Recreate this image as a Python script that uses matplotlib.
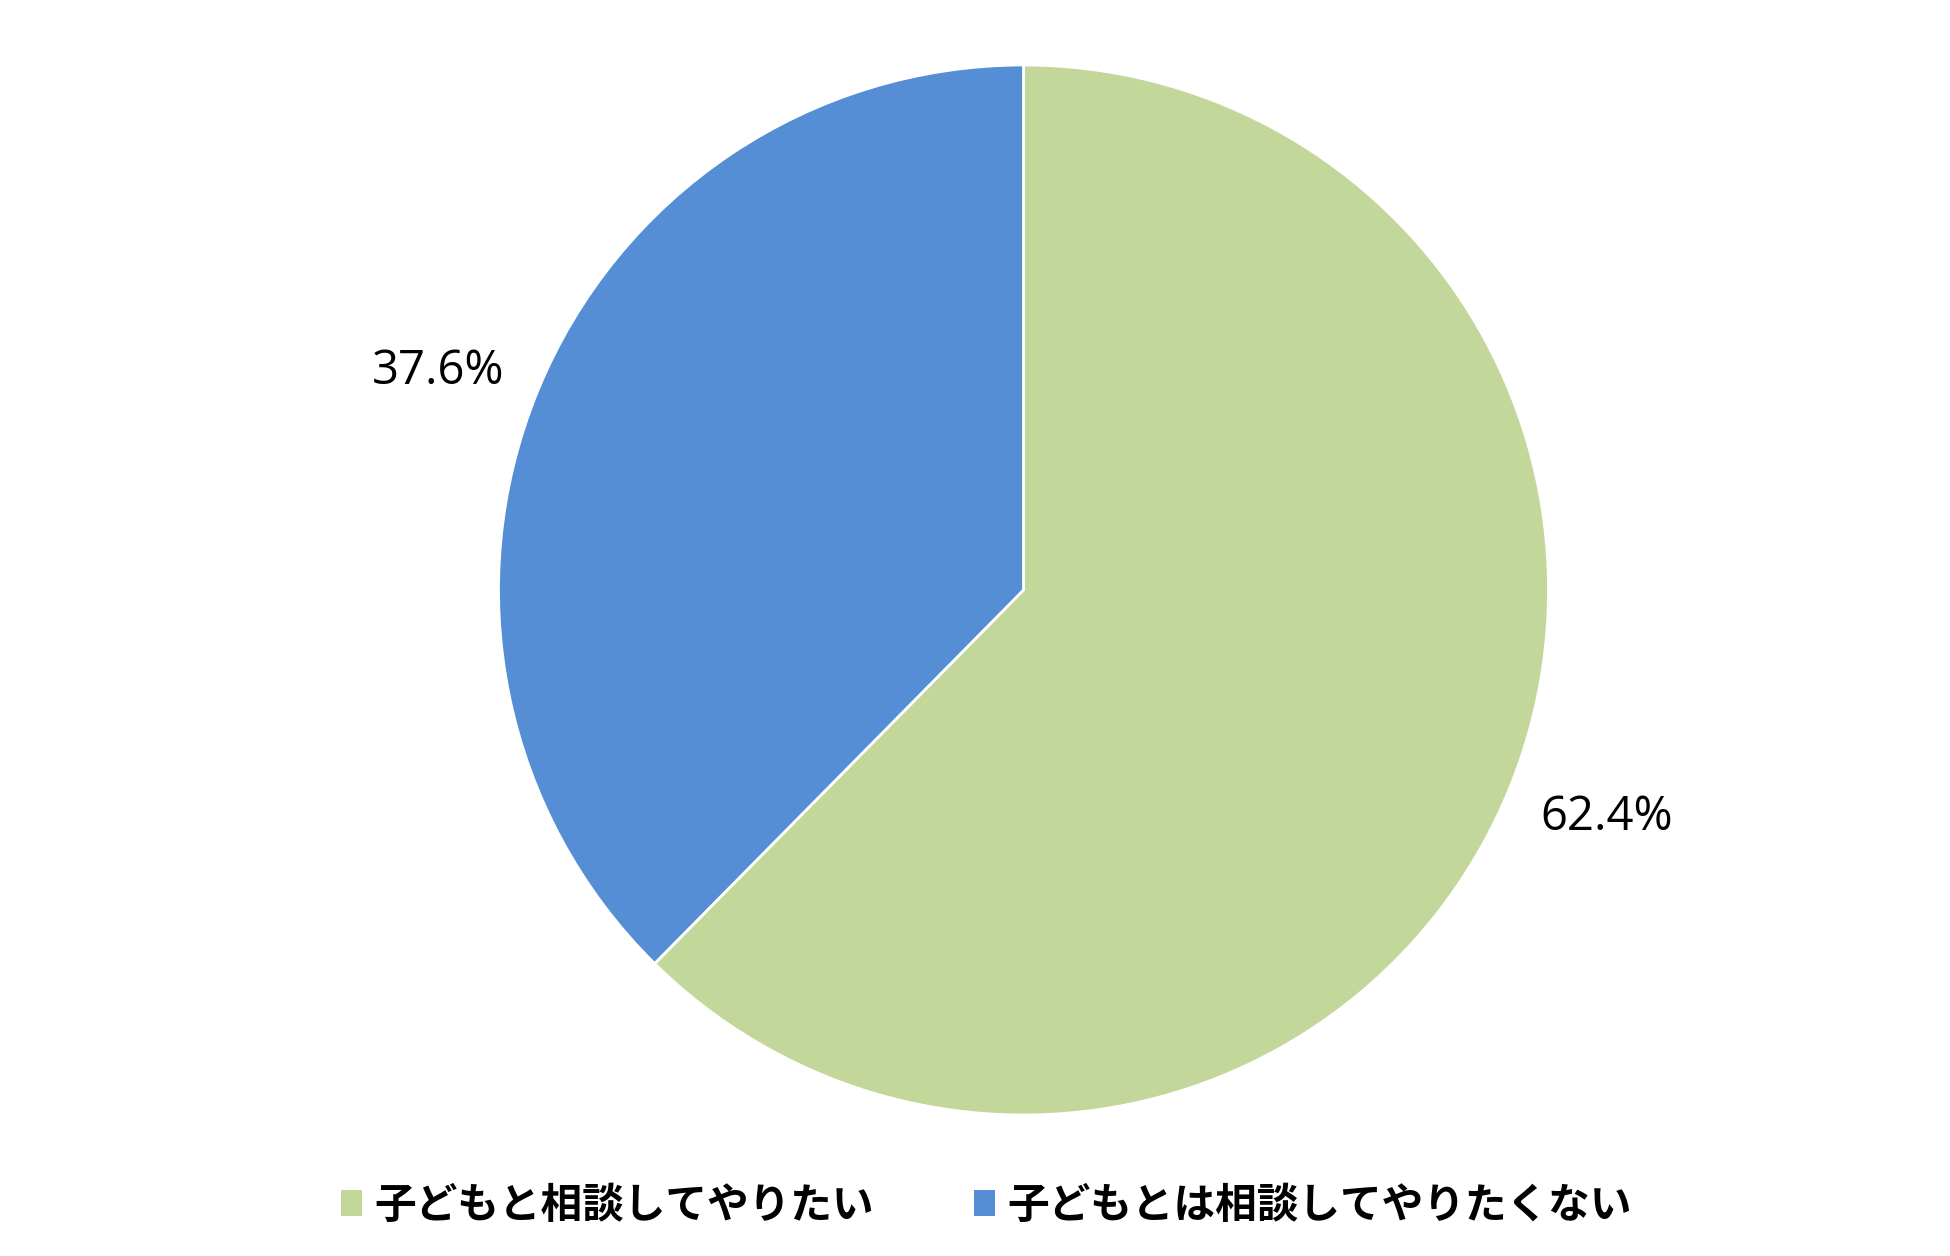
import matplotlib
matplotlib.use("Agg")
import matplotlib.pyplot as plt

plt.rcParams['font.family'] = ['Noto Sans CJK JP', 'DejaVu Sans']

labels = ['子どもと相談してやりたい', '子どもとは相談してやりたくない']
values = [62.4, 37.6]
colors = ['#C4D79B', '#558ED5']

fig = plt.figure(figsize=(19.5, 12.56), dpi=100)
# square axes in pixels around the pie
ax = fig.add_axes([(1023.5 - 525) / 1950, 141 / 1256, 1050 / 1950, 1050 / 1256])

wedges, texts, autotexts = ax.pie(
    values,
    colors=colors,
    startangle=90,
    counterclock=False,
    radius=1.0,
    autopct='%.1f%%',
    pctdistance=1.19,
    wedgeprops=dict(edgecolor='white', linewidth=2),
    textprops=dict(fontsize=34, color='black', family=['Open Sans', 'DejaVu Sans']),
)
# nudge the percentage labels a bit toward horizontal, like the original
label_pos = [(1.111, -0.432), (-1.115, 0.417)]
for t, p in zip(autotexts, label_pos):
    t.set_position(p)

ax.set_xlim(-1, 1)
ax.set_ylim(-1, 1)

fig.legend(
    wedges, labels,
    loc='center', bbox_to_anchor=(0.506, 0.040),
    ncol=2, frameon=False,
    prop=dict(family=['Noto Sans CJK JP', 'DejaVu Sans'], weight='bold', size=30),
    handlelength=0.5, handleheight=0.55, handletextpad=0.3,
    columnspacing=2.4,
)
for h in fig.legends[0].legend_handles:
    h.set_edgecolor('none')

fig.savefig('out.png', dpi=100, facecolor='white')
